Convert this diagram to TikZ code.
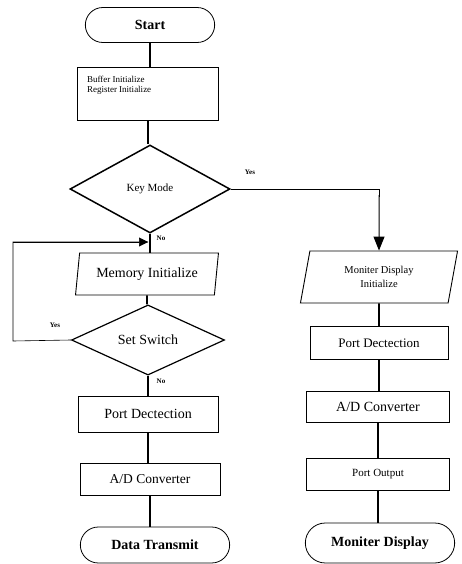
\documentclass[tikz,border=0pt]{standalone}
\usepackage{fontspec}
\setmainfont{Liberation Serif}
\usepackage{tikz}
\usetikzlibrary{arrows.meta,positioning,shapes.geometric,shapes.misc}

\newcommand{\fs}[1]{\fontsize{#1}{#1}\selectfont}

\begin{document}
\begin{tikzpicture}[
	x=1pt, y=-1pt,
	terminal/.style={draw, rounded rectangle, line width=0.8pt, font=\fs{14}\bfseries},
	procbox/.style={draw, line width=0.9pt, inner sep=2pt},
	iobox/.style={draw, trapezium, trapezium left angle=78, trapezium right angle=102, trapezium stretches=true, line width=0.9pt, inner sep=1pt},
	decision/.style={draw, diamond, inner sep=0pt, line width=1.5pt},
	flow/.style={line width=1.8pt},
	arrow/.style={-{Triangle[length=14pt,width=11pt]}, line width=1pt},
	tag/.style={font=\fs{7}\bfseries, inner sep=1pt}
]
\useasboundingbox (0,0) rectangle (461,564);

% left column
\node[terminal, minimum width=136pt, minimum height=35pt] (start) at (150,25) {Start};
\node[procbox, minimum width=141pt, minimum height=53pt] (init) at (148,94)
	{\parbox[c][46pt][t]{122pt}{\vspace*{5pt}\fs{9}Buffer Initialize\\[1pt]Register Initialize}};
\node[decision, minimum width=160pt, minimum height=88pt, font=\fs{11}] (keymode) at (150,189) {Key Mode};
\node[iobox, minimum width=143pt, minimum height=42pt, font=\fs{14}] (meminit) at (147,274) {Memory Initialize};
\node[decision, minimum width=153pt, minimum height=53pt, line width=1.2pt, font=\fs{14}] (setsw) at (148,340) {Set Switch};
\node[procbox, minimum width=140pt, minimum height=36pt, font=\fs{14}] (portL) at (148,414) {Port Dectection};
\node[procbox, minimum width=140pt, minimum height=32pt, font=\fs{13.5}] (adL) at (150,479) {A/D Converter};
\node[terminal, minimum width=156pt, minimum height=36pt] (datatx) at (155,545) {Data Transmit};

% right column
\node[iobox, minimum width=158pt, minimum height=52pt, align=center, font=\fs{10.5}] (moninit) at (379,277) {Moniter Display\\[3pt]Initialize};
\node[procbox, minimum width=138pt, minimum height=33pt, font=\fs{13}] (portR) at (379,343) {Port Dectection};
\node[procbox, minimum width=143pt, minimum height=31pt, font=\fs{14}] (adR) at (378,407) {A/D Converter};
\node[procbox, minimum width=143pt, minimum height=32pt, font=\fs{11}] (portout) at (378,474) {Port Output};
\node[terminal, minimum width=156pt, minimum height=40pt] (mondisp) at (380,543) {Moniter Display};

\coordinate (loopin) at (148,242);
\coordinate (loopcorner) at (13,341);

% labels
\node[tag] (yes1) at (250,172) {Yes};
\node[tag] (no1) at (161,238) {No};
\node[tag] (yes2) at (55,325) {Yes};
\node[tag] (no2) at (161,381) {No};

% connectors
\draw[flow] (start) -- (start |- init.north);
\draw[flow] (init) -- (init |- keymode.north);
\draw[flow] (keymode.south) -- (keymode.south |- meminit.north);
\draw[flow] (meminit) -- (meminit |- setsw.north);
\draw[flow] (setsw.south) -- (setsw.south |- portL.north);
\draw[flow] (portL) -- (portL |- adL.north);
\draw[flow] (adL.south) -- (adL.south |- datatx.north);
\draw[line width=0.9pt] (keymode.east) -- (keymode.east -| moninit) -- ++(0,8);
\draw[arrow] (keymode.east -| moninit) ++(0,6) -- (moninit.north);
\draw[line width=0.6pt] (setsw.west) -- (loopcorner) |- (loopin);
\draw[-{Triangle[length=9pt,width=9pt]}, line width=0.6pt] (loopcorner |- loopin) -- (loopin);
\draw[flow] (moninit) -- (moninit |- portR.north);
\draw[flow] (portR) -- (portR |- adR.north);
\draw[flow] (adR) -- (adR |- portout.north);
\draw[flow] (portout) -- (portout |- mondisp.north);
\end{tikzpicture}
\end{document}
